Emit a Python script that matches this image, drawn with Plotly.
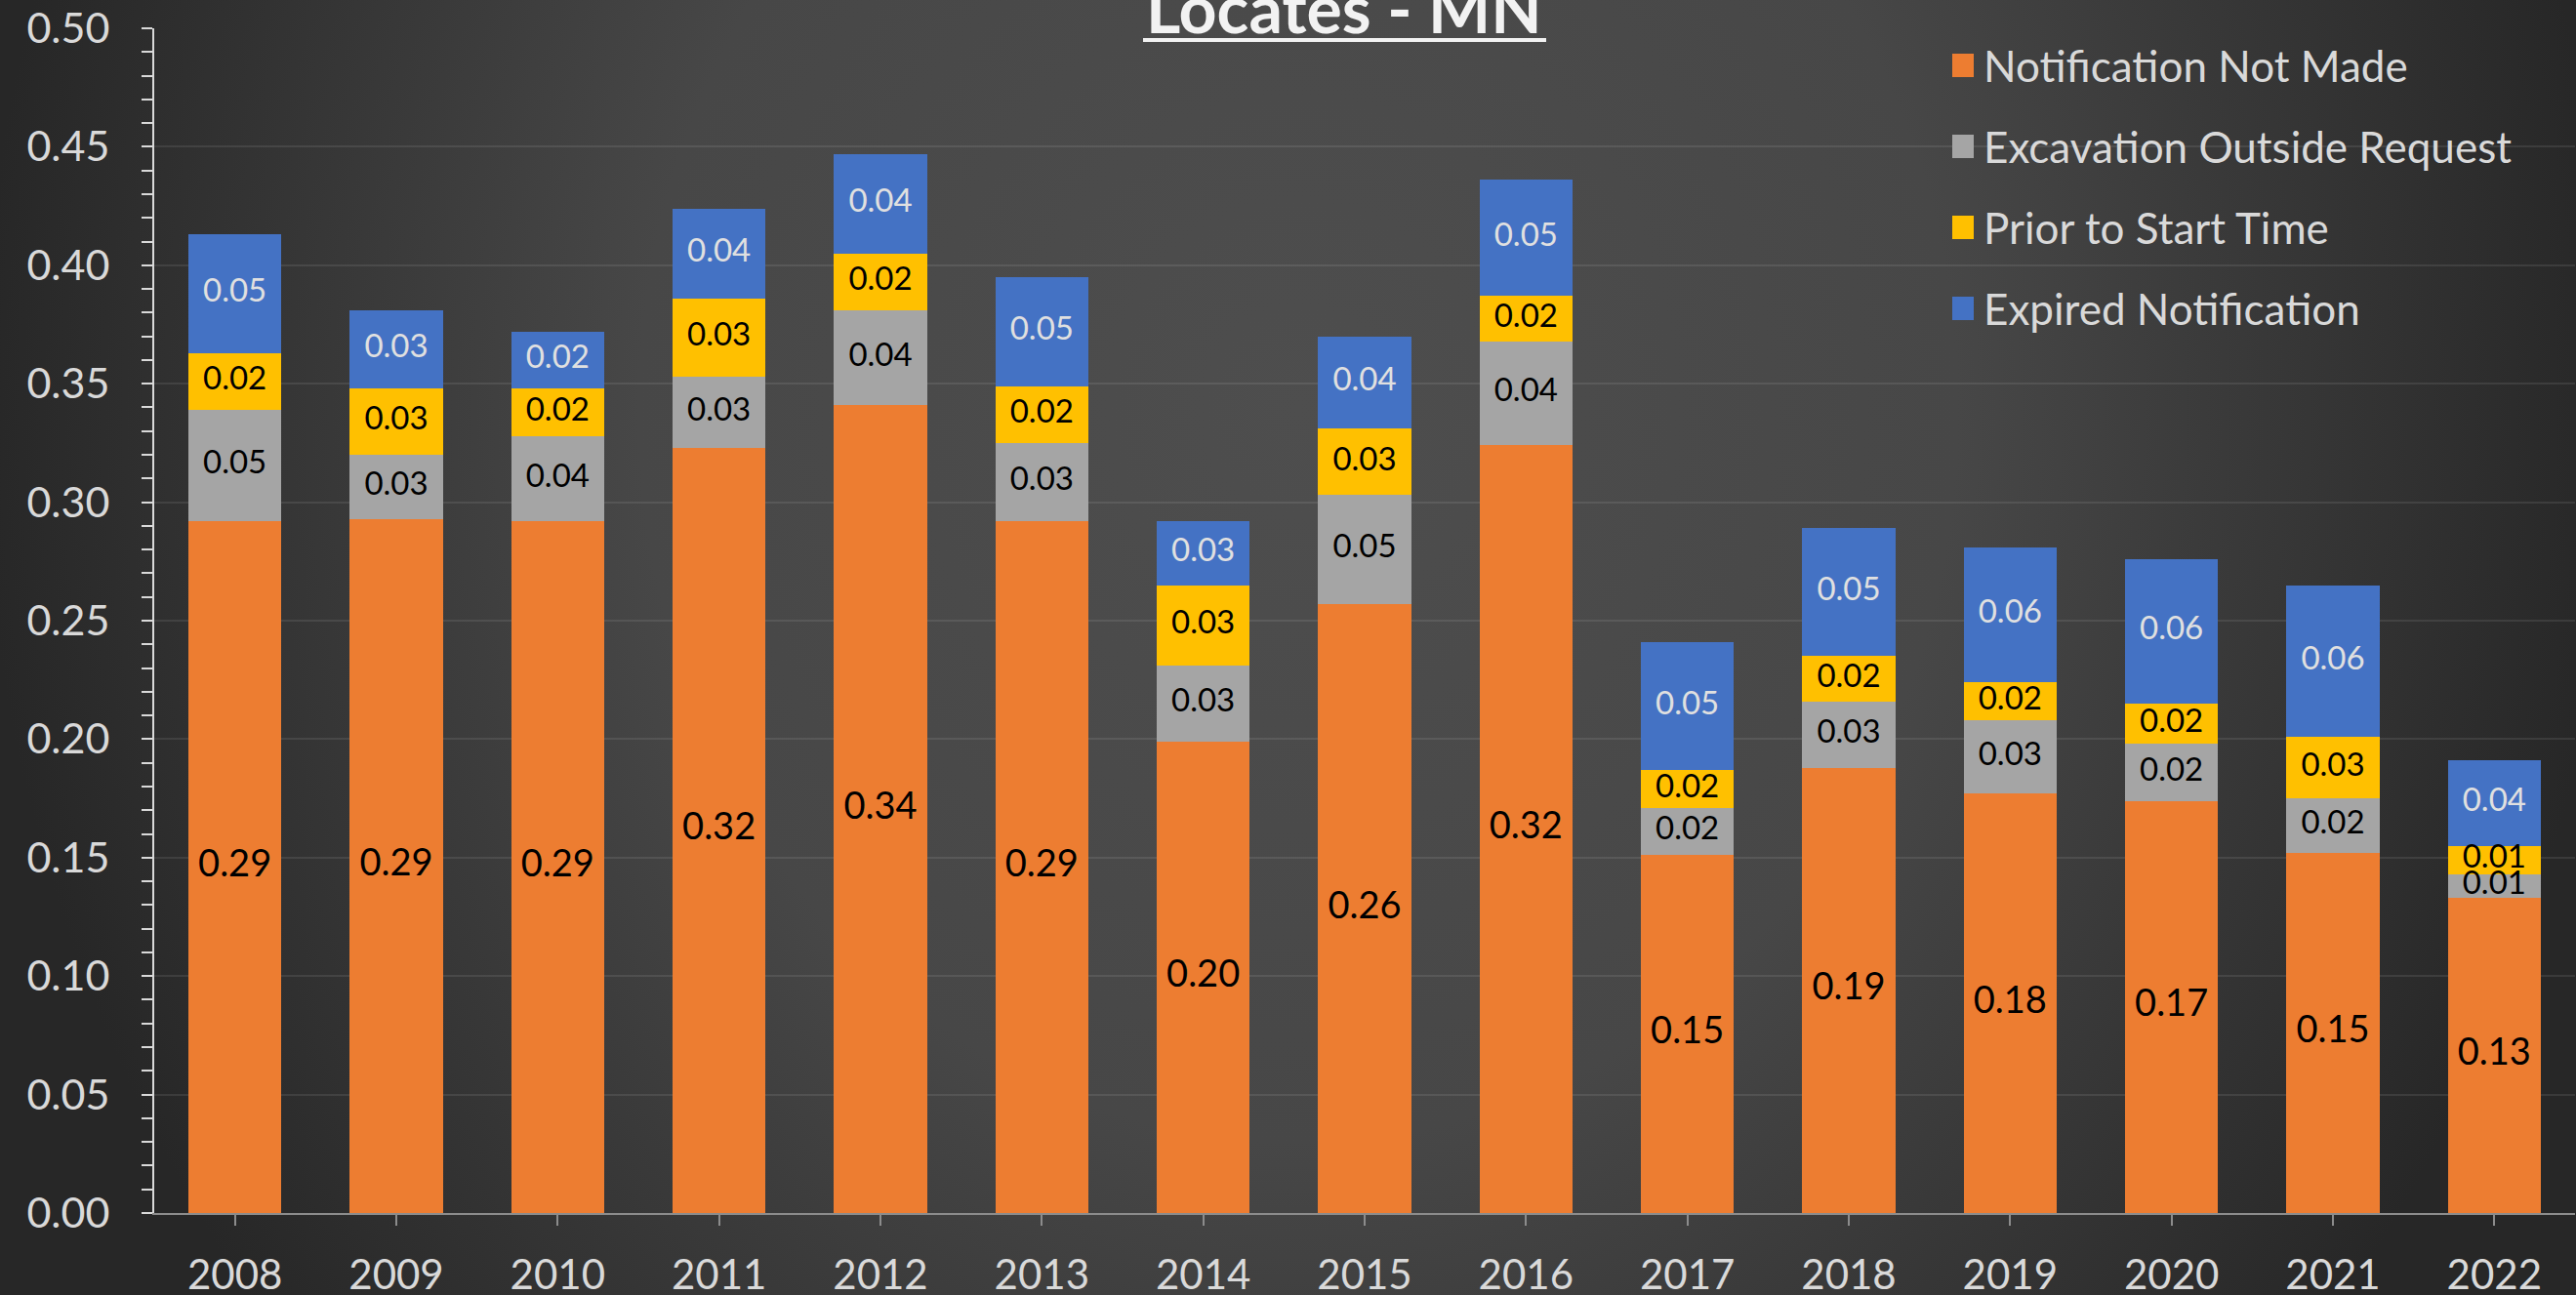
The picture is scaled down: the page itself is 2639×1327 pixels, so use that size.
import base64
import plotly.graph_objects as go

# ---- data ----
years = [str(y) for y in range(2008, 2023)]
series_names = ["Notification Not Made", "Excavation Outside Request",
                "Prior to Start Time", "Expired Notification"]
not_made = [0.292, 0.293, 0.292, 0.323, 0.341, 0.292, 0.199, 0.257, 0.324,
            0.151, 0.188, 0.177, 0.174, 0.152, 0.133]
outside = [0.047, 0.027, 0.036, 0.030, 0.040, 0.033, 0.032, 0.046, 0.044,
           0.020, 0.028, 0.031, 0.024, 0.023, 0.010]
prior = [0.024, 0.028, 0.020, 0.033, 0.024, 0.024, 0.034, 0.028, 0.019,
         0.016, 0.019, 0.016, 0.017, 0.026, 0.012]
expired = [0.050, 0.033, 0.024, 0.038, 0.042, 0.046, 0.027, 0.039, 0.049,
           0.054, 0.054, 0.057, 0.061, 0.064, 0.036]
title_text = "Locates - MN"

colors = ["#ED7D31", "#A5A5A5", "#FFC000", "#4472C4"]
label_colors = ["#000000", "#000000", "#000000", "#E0E0E0"]
label_sizes = [38, 33, 33, 33]
FONT = "Lato"
W, H = 2639, 1327
ML, MR, MT, MB = 158, 1, 29, 84
PW, PH = W - ML - MR, H - MT - MB

fig = go.Figure()
all_series = [not_made, outside, prior, expired]
for name, vals, c in zip(series_names, all_series, colors):
    fig.add_trace(go.Bar(
        x=years, y=vals, name=name, marker=dict(color=c, line=dict(width=0)),
        showlegend=False, hoverinfo="skip",
    ))

# data labels centred in each stacked segment
base = [0.0] * len(years)
for vals, lc, ls in zip(all_series, label_colors, label_sizes):
    mids = [b + v / 2 for b, v in zip(base, vals)]
    fig.add_trace(go.Scatter(
        x=years, y=mids, mode="text", text=[f"{v:.2f}" for v in vals],
        textposition="middle center",
        textfont=dict(family=FONT, size=ls, color=lc),
        showlegend=False, hoverinfo="skip", cliponaxis=False,
    ))
    base = [b + v for b, v in zip(base, vals)]

# background gradient image
svg = f"""<svg xmlns='http://www.w3.org/2000/svg' width='{W}' height='{H}' viewBox='0 0 {W} {H}' preserveAspectRatio='none'>
<defs><radialGradient id='g' gradientUnits='userSpaceOnUse' cx='0' cy='0' r='1'
gradientTransform='translate(1330,420) scale(1350,1500)'>
<stop offset='0' stop-color='#4e4e4e'/><stop offset='0.5' stop-color='#474747'/>
<stop offset='1' stop-color='#272727'/></radialGradient></defs>
<rect width='{W}' height='{H}' fill='url(#g)'/></svg>"""
uri = "data:image/svg+xml;base64," + base64.b64encode(svg.encode()).decode()

def px2paper_x(px):
    return (px - ML) / PW

def px2paper_y(py):
    return (H - MB - py) / PH

images = [dict(source=uri, xref="paper", yref="paper",
               x=px2paper_x(0), y=px2paper_y(0),
               sizex=W / PW, sizey=H / PH, sizing="stretch",
               xanchor="left", yanchor="top", layer="below")]

shapes = []
annotations = []
# custom legend
row_y = [67, 150, 233, 316]
for name, c, ry in zip(series_names, colors, row_y):
    shapes.append(dict(type="rect", xref="paper", yref="paper",
                       x0=px2paper_x(2000), x1=px2paper_x(2022),
                       y0=px2paper_y(ry - 12), y1=px2paper_y(ry + 12),
                       fillcolor=c, line=dict(width=0)))
    annotations.append(dict(text=name, xref="paper", yref="paper",
                            x=px2paper_x(2030), y=px2paper_y(ry),
                            xanchor="left", yanchor="middle", showarrow=False,
                            font=dict(family=FONT, size=44, color="#D9D9D9")))
# title
annotations.append(dict(text="<b>" + title_text + "</b>", xref="paper", yref="paper",
                        x=px2paper_x(1377), y=px2paper_y(50), xanchor="center",
                        yanchor="bottom", showarrow=False,
                        font=dict(family=FONT, size=68, color="#F2F2F2")))
shapes.append(dict(type="line", xref="paper", yref="paper",
                   x0=px2paper_x(1171), x1=px2paper_x(1584),
                   y0=px2paper_y(41), y1=px2paper_y(41),
                   line=dict(color="#F2F2F2", width=4)))

fig.update_layout(
    width=W, height=H, autosize=False,
    margin=dict(l=ML, r=MR, t=MT, b=MB, pad=0),
    paper_bgcolor="#2a2a2a", plot_bgcolor="rgba(0,0,0,0)",
    barmode="stack", bargap=0.425,
    images=images, shapes=shapes, annotations=annotations,
    font=dict(family=FONT, color="#D9D9D9"),
    xaxis=dict(type="category", range=[-0.5, len(years) - 0.5],
               showline=True, linecolor="#8C8C8C", linewidth=2,
               ticks="outside", ticklen=11, tickcolor="#8C8C8C", tickwidth=2,
               tickfont=dict(family=FONT, size=42, color="#D9D9D9"),
               ticklabelstandoff=15, showgrid=False, automargin=False),
    yaxis=dict(range=[0, 0.5], dtick=0.05, tickformat=".2f",
               showline=True, linecolor="#D9D9D9", linewidth=2,
               ticks="outside", ticklen=11, tickcolor="#D9D9D9", tickwidth=2,
               minor=dict(dtick=0.01, ticks="outside", ticklen=11,
                          tickcolor="#D9D9D9", tickwidth=2, showgrid=False),
               showgrid=True, gridcolor="rgba(255,255,255,0.09)", gridwidth=2,
               zeroline=False, automargin=False,
               tickfont=dict(family=FONT, size=43, color="#D9D9D9"),
               ticklabelstandoff=24),
)

fig.write_html("out.html", config={"displayModeBar": False},
               post_script="document.body.style.margin='0';"
                           "document.body.style.overflow='hidden';")
